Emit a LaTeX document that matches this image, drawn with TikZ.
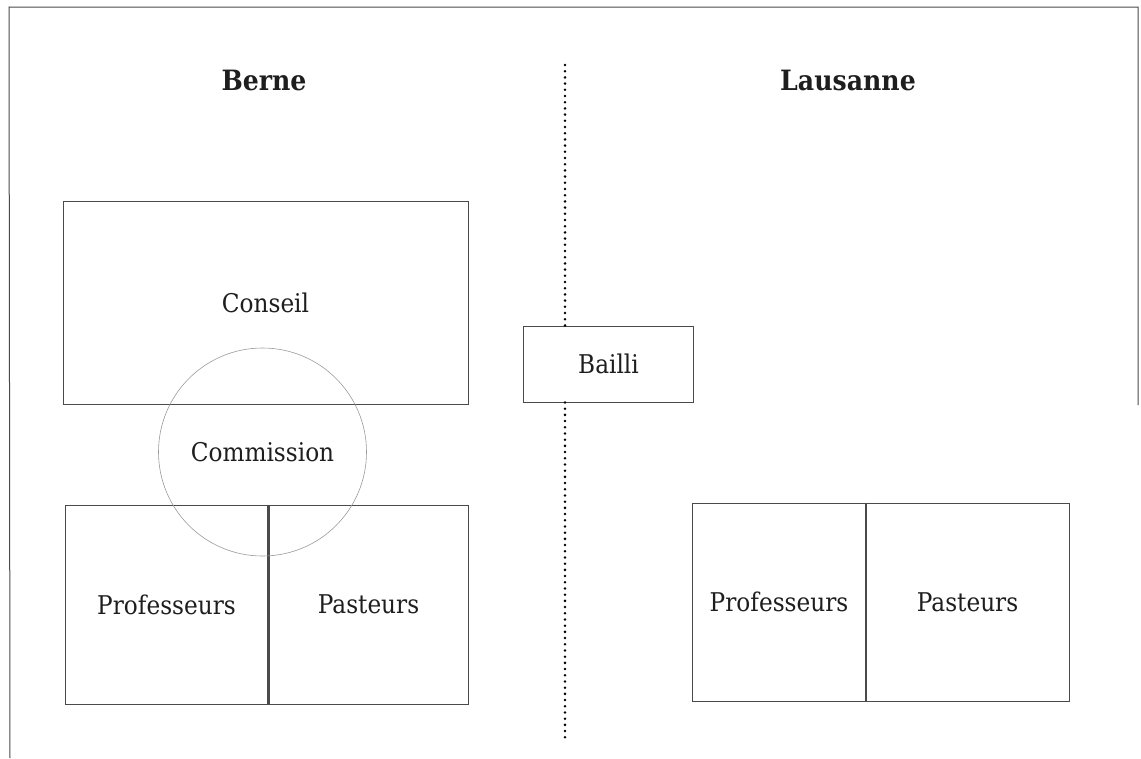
\documentclass[tikz,border=0pt]{standalone}
\usepackage{fontspec}
\setmainfont{DejaVu Serif}[FakeStretch=0.9]
\definecolor{ink}{HTML}{1E1E1E}
\definecolor{rule}{HTML}{4A4A4A}
\definecolor{faint}{HTML}{9A9A9A}
\begin{document}
\begin{tikzpicture}[x=1pt,y=-1pt,
  box/.style={draw=rule, line width=0.9pt, rectangle, inner sep=0pt, text=ink, font=\fontsize{25.8}{30}\selectfont},
  title/.style={text=ink, font=\fontsize{28}{32}\selectfont\bfseries},
  ring/.style={draw=faint, line width=0.6pt, circle, inner sep=0pt, minimum size=208pt, text=ink, font=\fontsize{25.8}{30}\selectfont},
  divider/.style={draw=rule, line width=2pt},
  dots/.style={draw=black, line width=2.8pt, line cap=round, dash pattern=on 0pt off 6.2pt},
  frame/.style={draw=rule, line width=1pt}]
\useasboundingbox (0,0) rectangle (1141,758);
% frame
\coordinate (fbl) at (10,758);
\coordinate (ftl) at (9,7);
\coordinate (ftr) at (1138,7);
\coordinate (fbr) at (1138,405);
\draw[frame] (fbl) -- (ftl) -- (ftr) -- (fbr);
% titles
\node[title] (berne) at (264,80) {Berne};
\node[title] (lausanne) at (848,80) {Lausanne};
% Berne side
\node[box, minimum width=405pt, minimum height=203pt] (conseil) at (265.5,302.5) {Conseil};
\node[box, minimum width=203pt, minimum height=199pt] (bprof) at (166.5,604.5) {Professeurs};
\node[box, minimum width=199pt, minimum height=199pt] (bpast) at (368.5,604.5) {Pasteurs};
\draw[divider] (bprof.north east) -- (bprof.south east);
\node[ring] (commission) at (262.5,452) {Commission};
% Bailli and dotted divide
\node[box, minimum width=170pt, minimum height=76pt] (bailli) at (608.5,364) {Bailli};
\coordinate (dtop) at (565,65);
\coordinate (dbot) at (565,738);
\draw[dots] (dtop) -- (dtop |- bailli.north);
\draw[dots] (dbot |- bailli.south) -- (dbot);
% Lausanne side
\node[box, minimum width=174pt, minimum height=198pt] (lprof) at (779,602) {Professeurs};
\node[box, minimum width=203pt, minimum height=198pt] (lpast) at (967.5,602) {Pasteurs};
\draw[divider] (lprof.north east) -- (lprof.south east);
\end{tikzpicture}
\end{document}
